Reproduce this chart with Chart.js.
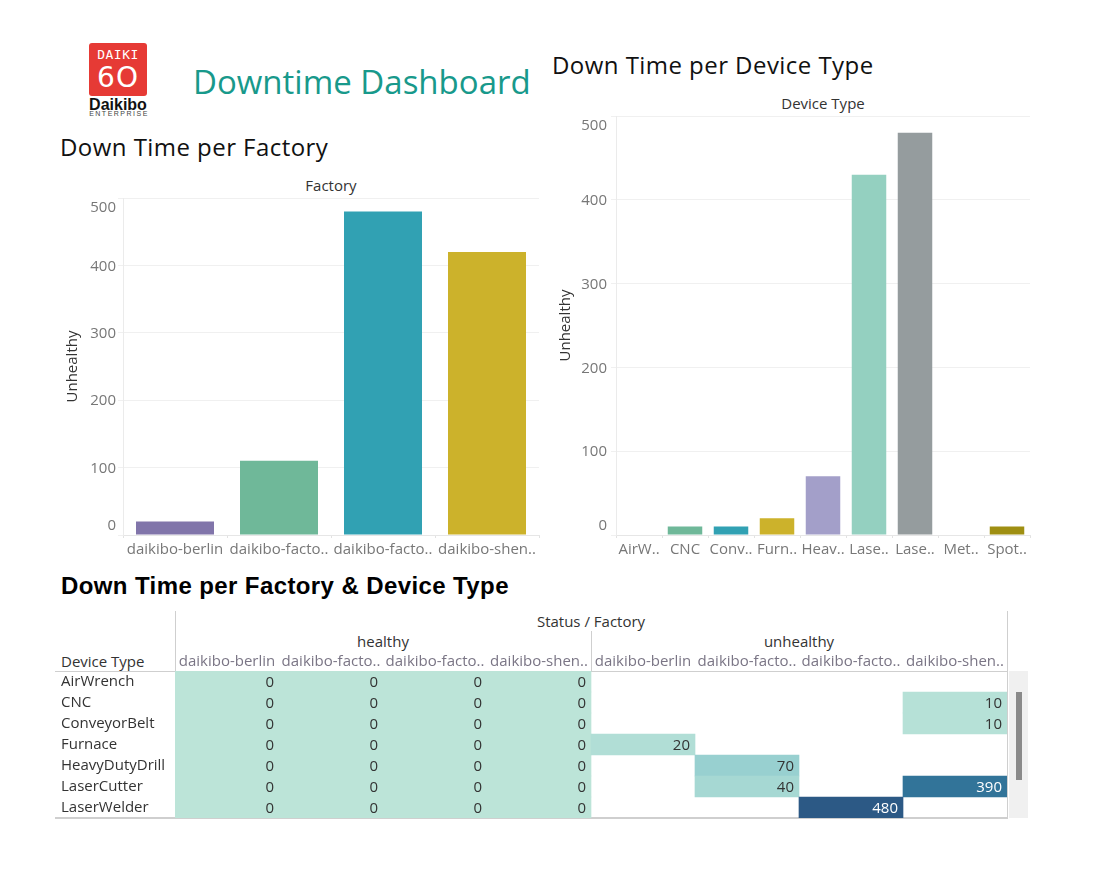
<!DOCTYPE html>
<html><head><meta charset="utf-8">
<script src="https://cdn.jsdelivr.net/npm/chart.js"></script>
<style>
html,body{margin:0;padding:0;background:#fff;}
#wrap{position:relative;width:1097px;height:888px;overflow:hidden;font-family:"Open Sans",sans-serif;background:#fff;}
.t{position:absolute;white-space:nowrap;line-height:1;}
.c{text-align:center;width:400px;}
canvas{position:absolute;}
.ln{position:absolute;background:#cfcfcf;}
</style></head><body><div id="wrap">

<!-- logo -->
<div style="position:absolute;left:89px;top:43px;width:58px;height:53px;background:#e63a35;border-radius:3px;"></div>
<div class="t" style="left:89px;top:48px;width:58px;text-align:center;color:#fff;font-family:'DejaVu Sans Mono',monospace;font-size:13px;letter-spacing:0.5px;">DAIKI</div>
<div class="t" style="left:89px;top:64px;width:58px;text-align:center;color:#fff;font-family:'DejaVu Sans',sans-serif;font-size:28px;letter-spacing:1px;">6O</div>
<div class="t" style="left:89px;top:97px;width:58px;text-align:center;color:#111;font-family:'Liberation Sans',Arial,sans-serif;font-weight:bold;font-size:16px;">Daikibo</div>
<div class="t" style="left:89px;top:110px;width:60px;text-align:center;color:#444;font-family:'Liberation Sans',Arial,sans-serif;font-size:7px;letter-spacing:1.5px;">ENTERPRISE</div>

<div class="t" style="left:193px;top:65px;font-size:33px;color:#18998b;">Downtime Dashboard</div>
<div class="t" style="left:60px;top:135px;font-size:24px;letter-spacing:0.45px;color:#111;">Down Time per Factory</div>
<div class="t" style="left:552px;top:53px;font-size:24px;letter-spacing:0.45px;color:#111;">Down Time per Device Type</div>
<div class="t" style="left:61px;top:574px;font-size:24px;letter-spacing:0.4px;color:#000;font-family:'Liberation Sans',Arial,sans-serif;font-weight:bold;">Down Time per Factory &amp; Device Type</div>

<div class="t c" style="left:131px;top:178px;font-size:15px;color:#333;">Factory</div>
<div class="t c" style="left:623px;top:96px;font-size:15px;color:#333;">Device Type</div>

<canvas id="c1" width="490" height="385" style="left:55px;top:175px;"></canvas>
<canvas id="c2" width="490" height="465" style="left:550px;top:95px;"></canvas>

<!-- table decorations -->
<div class="t c" style="left:391px;top:614px;font-size:15px;color:#333;">Status / Factory</div>
<div class="t c" style="left:183px;top:634px;font-size:15px;color:#333;">healthy</div>
<div class="t c" style="left:599px;top:634px;font-size:15px;color:#333;">unhealthy</div>
<div class="t" style="left:61px;top:654px;font-size:15px;color:#333;">Device Type</div>
<div class="ln" style="left:175px;top:611px;width:1px;height:207px;"></div>
<div class="ln" style="left:591px;top:631px;width:1px;height:40px;"></div>
<div class="ln" style="left:1007px;top:611px;width:1px;height:207px;"></div>
<div class="ln" style="left:55px;top:671px;width:952px;height:1px;"></div>
<div class="ln" style="left:55px;top:817px;width:953px;height:2px;"></div>
<div style="position:absolute;left:1009px;top:671px;width:19px;height:147px;background:#f0f0f0;"></div>
<div style="position:absolute;left:1016px;top:692px;width:6px;height:88px;background:#8a8a8a;"></div>

<canvas id="c3" width="975" height="220" style="left:55px;top:605px;"></canvas>
</div>
<script>
// ---- data ----
const factoryLabels = ['daikibo-berlin', 'daikibo-facto..', 'daikibo-facto..', 'daikibo-shen..'];
const factoryDowntime = [20, 110, 480, 420];
const factoryColors = ['#8175aa', '#6fb899', '#31a1b3', '#ccb22b'];

const deviceLabels = ['AirW..', 'CNC', 'Conv..', 'Furn..', 'Heav..', 'Lase..', 'Lase..', 'Met..', 'Spot..'];
const deviceDowntime = [0, 10, 10, 20, 70, 430, 480, 0, 10];
const deviceColors = ['#8175aa', '#6fb899', '#31a1b3', '#ccb22b', '#a39fc9', '#94d0c0', '#959c9e', '#027b8e', '#9f8f12'];

const yTickValues = [0, 100, 200, 300, 400, 500];

const tableDevices = ['AirWrench', 'CNC', 'ConveyorBelt', 'Furnace', 'HeavyDutyDrill', 'LaserCutter', 'LaserWelder'];
const tableColumnLabels = ['daikibo-berlin', 'daikibo-facto..', 'daikibo-facto..', 'daikibo-shen..',
                           'daikibo-berlin', 'daikibo-facto..', 'daikibo-facto..', 'daikibo-shen..'];
const healthyBerlin    = [0, 0, 0, 0, 0, 0, 0];
const healthyFactoryA  = [0, 0, 0, 0, 0, 0, 0];
const healthyFactoryB  = [0, 0, 0, 0, 0, 0, 0];
const healthyShenzhen  = [0, 0, 0, 0, 0, 0, 0];
const unhealthyBerlin   = [null, null, null, 20, null, null, null];
const unhealthyFactoryA = [null, null, null, null, 70, 40, null];
const unhealthyFactoryB = [null, null, null, null, null, null, 480];
const unhealthyShenzhen = [null, 10, 10, null, null, 390, null];

// ---- styling helpers ----
const FONT = '"Open Sans", sans-serif';
const blueTeal = ['#bce4d8','#aedcd5','#a1d5d2','#95cecf','#89c8cc','#7ec1ca','#72bac6','#66b2c2','#59acbe','#4ba5ba',
                  '#419eb6','#3b96b2','#358ead','#3586a7','#347ea1','#32779b','#316f96','#2f6790','#2d608a','#2c5985'];
function hex2rgb(h){return [parseInt(h.substr(1,2),16),parseInt(h.substr(3,2),16),parseInt(h.substr(5,2),16)];}
function heatColor(v, max){
  const t = Math.max(0, Math.min(1, v / max)) * (blueTeal.length - 1);
  const i = Math.min(Math.floor(t), blueTeal.length - 2), f = t - i;
  const a = hex2rgb(blueTeal[i]), b = hex2rgb(blueTeal[i+1]);
  return 'rgb(' + a.map((x,k)=>Math.round(x + (b[k]-x)*f)).join(',') + ')';
}
function noPad(s){ s.paddingTop = 0; s.paddingBottom = 0; s.paddingLeft = 0; s.paddingRight = 0; }

const yTicksPlugin = {
  id: 'yTicks',
  afterDraw(chart, args, opts) {
    const s = chart.scales.y, ctx = chart.ctx;
    ctx.save();
    ctx.font = '15px ' + FONT;
    ctx.fillStyle = '#777';
    ctx.textAlign = 'right';
    ctx.textBaseline = 'middle';
    s.ticks.forEach(t => {
      let p = s.getPixelForValue(t.value) + 1;
      p = Math.min(Math.max(p, s.top + 10), s.bottom - 9);
      ctx.fillText(String(t.value), opts.x, p);
    });
    ctx.restore();
  }
};

function barConfig(labels, values, colors, yWidth, padTop, padRight, tickX, titlePad) {
  return {
    type: 'bar',
    data: { labels: labels, datasets: [{ data: values, backgroundColor: colors, barPercentage: 0.75, categoryPercentage: 1 }] },
    options: {
      responsive: false, animation: false,
      layout: { padding: { left: 0, top: padTop, right: padRight, bottom: 0 } },
      plugins: { legend: { display: false }, tooltip: { enabled: false }, yTicks: { x: tickX } },
      scales: {
        x: {
          grid: { offset: true, drawOnChartArea: false, drawTicks: true, tickLength: 3, color: '#e2e2e2' },
          border: { display: true, color: '#e6e6e6' },
          ticks: { autoSkip: false, maxRotation: 0, minRotation: 0, padding: 3, color: '#777', font: { family: FONT, size: 15 } },
          afterFit(s) { s.height = 25; noPad(s); }
        },
        y: {
          min: 0, max: 500,
          afterBuildTicks(s) { s.ticks = yTickValues.map(v => ({ value: v })); },
          grid: { color: '#f0f0f0', drawTicks: true, tickLength: 5 },
          border: { display: true, color: '#ebebeb' },
          ticks: { display: false },
          title: { display: true, text: 'Unhealthy', color: '#333', padding: { top: titlePad, bottom: 0 }, font: { family: FONT, size: 15 } },
          afterFit(s) { s.width = yWidth; noPad(s); }
        }
      }
    },
    plugins: [yTicksPlugin]
  };
}

new Chart(document.getElementById('c1'), barConfig(factoryLabels, factoryDowntime, factoryColors, 68, 23, 6, 61, 9));
new Chart(document.getElementById('c2'), barConfig(deviceLabels, deviceDowntime, deviceColors, 66, 21, 10, 57, 7));

// ---- heat table ----
const tableColumns = [healthyBerlin, healthyFactoryA, healthyFactoryB, healthyShenzhen,
                      unhealthyBerlin, unhealthyFactoryA, unhealthyFactoryB, unhealthyShenzhen];
const cells = [];
tableColumns.forEach((col, c) => col.forEach((v, r) => {
  if (v !== null) cells.push({ y: tableDevices[r], x: [c, c + 1], v: v });
}));
const maxV = Math.max(...cells.map(d => d.v));

const cellText = {
  id: 'cellText',
  afterDatasetsDraw(chart) {
    const ctx = chart.ctx, meta = chart.getDatasetMeta(0), data = chart.data.datasets[0].data;
    ctx.save();
    ctx.font = '15px ' + FONT;
    ctx.textAlign = 'right';
    ctx.textBaseline = 'middle';
    meta.data.forEach((el, i) => {
      const d = data[i];
      const right = Math.max(el.x, el.base);
      ctx.fillStyle = d.v > 300 ? '#ffffff' : '#333333';
      ctx.fillText(String(d.v), right - 5, el.y + 1);
    });
    ctx.restore();
  }
};

new Chart(document.getElementById('c3'), {
  type: 'bar',
  data: {
    labels: tableDevices,
    datasets: [{
      data: cells, xAxisID: 'x', yAxisID: 'y',
      backgroundColor: cells.map(d => heatColor(d.v, maxV)),
      borderWidth: 0, barPercentage: 1, categoryPercentage: 1
    }]
  },
  options: {
    indexAxis: 'y', responsive: false, animation: false,
    layout: { padding: { left: 6, top: 41, right: 23, bottom: 7 } },
    plugins: { legend: { display: false }, tooltip: { enabled: false } },
    scales: {
      x: { type: 'linear', min: 0, max: 8, display: false },
      x2: {
        type: 'category', position: 'top', labels: tableColumnLabels, offset: true,
        grid: { display: false, drawTicks: false }, border: { display: false },
        ticks: { autoSkip: false, maxRotation: 0, minRotation: 0, padding: 0, color: '#7a7585', font: { family: FONT, size: 15 } },
        afterFit(s) { s.height = 25; noPad(s); }
      },
      y: {
        type: 'category', labels: tableDevices, offset: true,
        grid: { display: false, drawTicks: false }, border: { display: false },
        ticks: { autoSkip: false, crossAlign: 'far', color: '#333', font: { family: FONT, size: 15 } },
        afterFit(s) { s.width = 114; noPad(s); }
      }
    }
  },
  plugins: [cellText]
});
</script>
</body></html>
